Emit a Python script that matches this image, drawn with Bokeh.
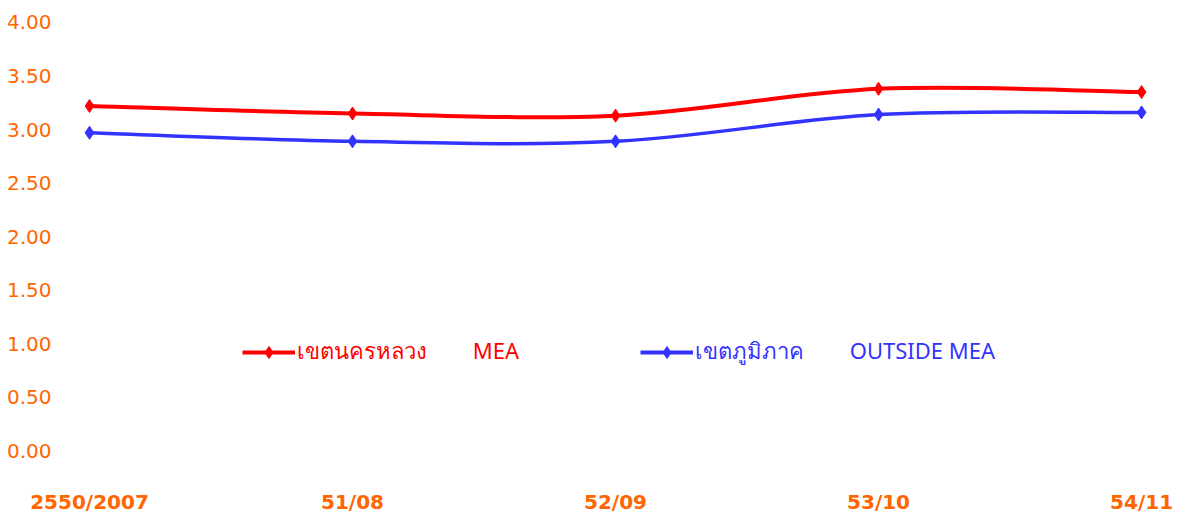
from bokeh.plotting import figure
from bokeh.models import Range1d, FixedTicker, NumeralTickFormatter, Legend, LegendItem
from bokeh.embed import file_html
from bokeh.resources import INLINE

# Year labels (Thai B.E. / C.E.)
periods = ["2550/2007", "51/08", "52/09", "53/10", "54/11"]
# Average electricity rate by area
mea = [3.22, 3.15, 3.13, 3.38, 3.35]
outside_mea = [2.97, 2.89, 2.89, 3.14, 3.16]
y_ticks = [0.0, 0.5, 1.0, 1.5, 2.0, 2.5, 3.0, 3.5, 4.0]

label_mea = "เขตนครหลวง\u00a0\u00a0\u00a0\u00a0\u00a0\u00a0\u00a0\u00a0MEA"
label_out = "เขตภูมิภาค\u00a0\u00a0\u00a0\u00a0\u00a0\u00a0\u00a0\u00a0OUTSIDE MEA"

ORANGE = "#FF6600"
RED = "#FF0000"
BLUE = "#3333FF"

xs = list(range(len(periods)))

p = figure(width=1179, height=516, output_backend="svg", toolbar_location=None,
           x_range=Range1d(-0.0722, 4.110), y_range=Range1d(-0.108, 4.1116),
           min_border_left=70, min_border_right=9, min_border_top=10, min_border_bottom=46)
p.outline_line_color = None
p.xgrid.visible = False
p.ygrid.visible = False
p.background_fill_color = "white"
p.border_fill_color = "white"


def smooth_segments(x, y):
    """Cubic Bezier pieces (Catmull-Rom style) through the data points."""
    n = len(x)
    seg = dict(x0=[], y0=[], x1=[], y1=[], cx0=[], cy0=[], cx1=[], cy1=[])
    for i in range(n - 1):
        a = max(i - 1, 0)
        d = min(i + 2, n - 1)
        seg["x0"].append(x[i]); seg["y0"].append(y[i])
        seg["x1"].append(x[i + 1]); seg["y1"].append(y[i + 1])
        seg["cx0"].append(x[i] + (x[i + 1] - x[a]) / 6)
        seg["cy0"].append(y[i] + (y[i + 1] - y[a]) / 6)
        seg["cx1"].append(x[i + 1] - (x[d] - x[i]) / 6)
        seg["cy1"].append(y[i + 1] - (y[d] - y[i]) / 6)
    return seg


p.bezier(line_color=RED, line_width=4, **smooth_segments(xs, mea))
p.scatter(xs, mea, marker="diamond", size=13, fill_color=RED, line_color=RED)
p.bezier(line_color=BLUE, line_width=3.5, **smooth_segments(xs, outside_mea))
p.scatter(xs, outside_mea, marker="diamond", size=13, fill_color=BLUE, line_color=BLUE)

# Legend key glyphs (line + diamond), shown only in the legend
k_red_line = p.line([0, 1], [-10, -10], line_color=RED, line_width=4)
k_red_pt = p.scatter([0], [-10], marker="diamond", size=16, fill_color=RED, line_color=RED)
k_blue_line = p.line([0, 1], [-10, -10], line_color=BLUE, line_width=4)
k_blue_pt = p.scatter([0], [-10], marker="diamond", size=16, fill_color=BLUE, line_color=BLUE)

for label, rends, color, xoff in [(label_mea, [k_red_line, k_red_pt], RED, 172),
                                  (label_out, [k_blue_line, k_blue_pt], BLUE, 570)]:
    lg = Legend(items=[LegendItem(label=label, renderers=rends)], location=(xoff, 93),
                orientation="horizontal", padding=0, margin=0, spacing=0,
                glyph_width=53, glyph_height=30, label_height=30, label_standoff=2,
                border_line_alpha=0, background_fill_alpha=0,
                label_text_color=color, label_text_font="Noto Sans",
                label_text_font_size="22px", label_text_baseline="middle")
    p.add_layout(lg, "center")

p.xaxis.ticker = FixedTicker(ticks=xs)
p.xaxis.major_label_overrides = {i: s for i, s in enumerate(periods)}
p.xaxis.axis_line_color = None
p.xaxis.major_tick_line_color = None
p.xaxis.minor_tick_line_color = None
p.xaxis.major_label_standoff = 21
p.xaxis.major_label_text_color = ORANGE
p.xaxis.major_label_text_font = "DejaVu Sans"
p.xaxis.major_label_text_font_style = "bold"
p.xaxis.major_label_text_font_size = "20px"

p.yaxis.ticker = FixedTicker(ticks=y_ticks)
p.yaxis.formatter = NumeralTickFormatter(format="0.00")
p.yaxis.axis_line_color = None
p.yaxis.major_tick_line_color = None
p.yaxis.minor_tick_line_color = None
p.yaxis.major_label_standoff = 13
p.yaxis.major_label_text_color = ORANGE
p.yaxis.major_label_text_font = "DejaVu Sans"
p.yaxis.major_label_text_font_size = "20px"

open("out.html", "w").write(file_html(p, INLINE))
